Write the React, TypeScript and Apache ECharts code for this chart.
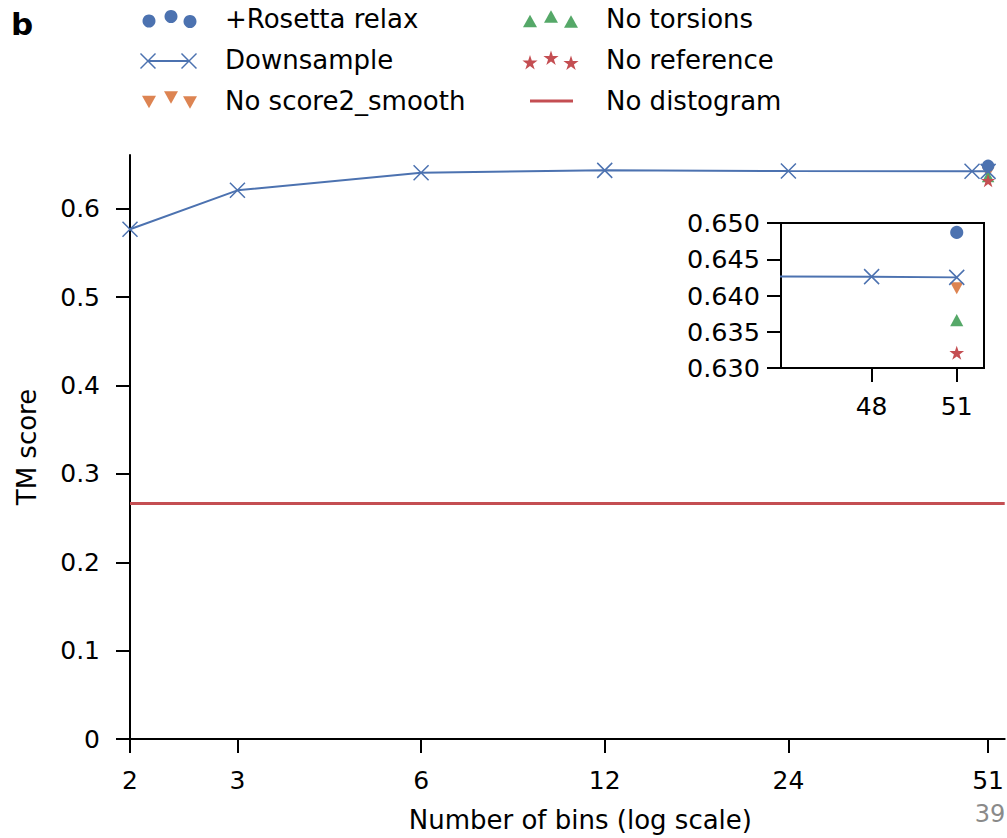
import React, { useEffect, useRef } from "react";
import * as echarts from "echarts";

// ---- data ----
const downsampleBins = [2, 3, 6, 12, 24, 48, 51];
const downsampleTM = [0.577, 0.621, 0.641, 0.6436, 0.6428, 0.6426, 0.6425];
const fullBins = [51];
const rosettaRelaxTM = [0.6487];
const noScore2SmoothTM = [0.641];
const noTorsionsTM = [0.6366];
const noReferenceTM = [0.6321];
const noDistogramTM = [0.267];

const mainXTicks = [2, 3, 6, 12, 24, 51];
const mainYTicks = [0, 0.1, 0.2, 0.3, 0.4, 0.5, 0.6];
const insetXTicks = [48, 51];
const insetYTicks = [0.63, 0.635, 0.64, 0.645, 0.65];

const BLUE = "#4c72b0";
const ORANGE = "#dd8452";
const GREEN = "#55a868";
const RED = "#c44e52";
const FONT = '"DejaVu Sans", "Liberation Sans", sans-serif';

const log2 = (v: number) => Math.log2(v);

function starPath(): string {
  const pts: string[] = [];
  for (let i = 0; i < 10; i++) {
    const r = i % 2 === 0 ? 1 : 0.381966;
    const a = -Math.PI / 2 + (i * Math.PI) / 5;
    pts.push(`${(r * Math.cos(a)).toFixed(4)},${(r * Math.sin(a)).toFixed(4)}`);
  }
  return "path://M" + pts.join("L") + "Z";
}
const STAR = starPath();
const XMARK = "path://M0,0L10,10M10,0L0,10";

function starPoints(cx: number, cy: number, R: number): number[][] {
  const pts: number[][] = [];
  for (let i = 0; i < 10; i++) {
    const r = i % 2 === 0 ? R : R * 0.381966;
    const a = -Math.PI / 2 + (i * Math.PI) / 5;
    pts.push([cx + r * Math.cos(a), cy + r * Math.sin(a)]);
  }
  return pts;
}
function triPoints(cx: number, cy: number, s: number, down: boolean): number[][] {
  const h = s * 0.9;
  if (down) return [[cx - s / 2, cy - h / 2], [cx + s / 2, cy - h / 2], [cx, cy + h / 2]];
  return [[cx - s / 2, cy + h / 2], [cx + s / 2, cy + h / 2], [cx, cy - h / 2]];
}

function buildLegend(): any[] {
  const els: any[] = [];
  const col1 = [149, 171, 190];
  const col2 = [530, 551, 571];
  const offs = [1, -3.5, 1.5];
  const text = (t: string, x: number, y: number) => ({
    type: "text",
    x,
    y,
    style: { text: t, fontSize: 26, fontFamily: FONT, fill: "#000", align: "left", verticalAlign: "middle", textAlign: "left", textVerticalAlign: "middle" },
  });
  // Row 1 col 1: circles
  col1.forEach((x, i) => els.push({ type: "circle", shape: { cx: x, cy: 20 + offs[i], r: 6.5 }, style: { fill: BLUE } }));
  els.push(text("+Rosetta relax", 225, 19));
  // Row 2 col 1: line with X
  els.push({ type: "line", shape: { x1: 148, y1: 61, x2: 189, y2: 61 }, style: { stroke: BLUE, lineWidth: 2 } });
  [148, 189].forEach((x) => {
    els.push({ type: "line", shape: { x1: x - 7.5, y1: 53.5, x2: x + 7.5, y2: 68.5 }, style: { stroke: BLUE, lineWidth: 1.5 } });
    els.push({ type: "line", shape: { x1: x - 7.5, y1: 68.5, x2: x + 7.5, y2: 53.5 }, style: { stroke: BLUE, lineWidth: 1.5 } });
  });
  els.push(text("Downsample", 225, 60));
  // Row 3 col 1: down triangles
  col1.forEach((x, i) => els.push({ type: "polygon", shape: { points: triPoints(x, 101 + offs[i], 14, true) }, style: { fill: ORANGE } }));
  els.push(text("No score2_smooth", 225, 101));
  // Row 1 col 2: up triangles
  col2.forEach((x, i) => els.push({ type: "polygon", shape: { points: triPoints(x, 20 + offs[i], 14, false) }, style: { fill: GREEN } }));
  els.push(text("No torsions", 606, 19));
  // Row 2 col 2: stars
  col2.forEach((x, i) => els.push({ type: "polygon", shape: { points: starPoints(x, 62 + offs[i], 8) }, style: { fill: RED } }));
  els.push(text("No reference", 606, 60));
  // Row 3 col 2: line
  els.push({ type: "line", shape: { x1: 530, y1: 101, x2: 573, y2: 101 }, style: { stroke: RED, lineWidth: 3 } });
  els.push(text("No distogram", 606, 101));
  // panel letter
  els.push({ type: "text", x: 11, y: 8, style: { text: "b", fontSize: 31, fontWeight: "bold", fontFamily: FONT, fill: "#000", align: "left", verticalAlign: "top", textAlign: "left", textVerticalAlign: "top" } });
  // page number
  els.push({ type: "text", x: 990, y: 814, style: { text: "39", fontSize: 24, fontFamily: FONT, fill: "#8a8a8a", align: "center", verticalAlign: "middle", textAlign: "center", textVerticalAlign: "middle" } });
  return els;
}

export default function App() {
  const ref = useRef<HTMLDivElement>(null);
  useEffect(() => {
    if (!ref.current) return;
    const chart = echarts.init(ref.current, undefined, { renderer: "svg" });
    const dsData = downsampleBins.map((b, i) => [log2(b), downsampleTM[i]]);
    const pt = (vals: number[]) => vals.map((v, i) => [log2(fullBins[i]), v]);

    const axisLine = { show: true, lineStyle: { color: "#000", width: 2 } };
    const axisTick = (vals: number[]) => ({ show: true, inside: false, length: 14, lineStyle: { color: "#000", width: 2 }, customValues: vals });

    const markerSeries = (gridIdx: number, scale: number) => [
      {
        name: "No distogram",
        type: "line",
        xAxisIndex: gridIdx,
        yAxisIndex: gridIdx,
        data: gridIdx === 0 ? pt(noDistogramTM) : [],
        showSymbol: false,
        symbol: "none",
        lineStyle: { color: RED, width: 3 },
        markLine:
          gridIdx === 0
            ? {
                silent: true,
                precision: 4,
                symbol: ["none", "none"],
                label: { show: false },
                lineStyle: { color: RED, width: 3, type: "solid" },
                data: noDistogramTM.map((v) => ({ yAxis: v })),
              }
            : undefined,
        z: 1,
      },
      {
        name: "No score2_smooth",
        type: "scatter",
        xAxisIndex: gridIdx,
        yAxisIndex: gridIdx,
        data: pt(noScore2SmoothTM),
        symbol: "triangle",
        symbolRotate: 180,
        symbolSize: [12.5 * scale, 11.5 * scale],
        itemStyle: { color: ORANGE, opacity: 1 },
        z: 3,
      },
      {
        name: "No torsions",
        type: "scatter",
        xAxisIndex: gridIdx,
        yAxisIndex: gridIdx,
        data: pt(noTorsionsTM),
        symbol: "triangle",
        symbolSize: [12.5 * scale, 11.5 * scale],
        itemStyle: { color: GREEN, opacity: 1 },
        z: 3,
      },
      {
        name: "Downsample",
        type: "line",
        xAxisIndex: gridIdx,
        yAxisIndex: gridIdx,
        data: dsData,
        clip: true,
        symbol: XMARK,
        symbolSize: 15,
        showSymbol: true,
        showAllSymbol: true,
        lineStyle: { color: BLUE, width: 2 },
        itemStyle: { color: BLUE, borderColor: BLUE, borderWidth: 1.5 },
        z: 4,
      },
      {
        name: "+Rosetta relax",
        type: "scatter",
        xAxisIndex: gridIdx,
        yAxisIndex: gridIdx,
        data: pt(rosettaRelaxTM),
        symbol: "circle",
        symbolSize: 12.5 * scale,
        itemStyle: { color: BLUE, opacity: 1 },
        z: 5,
      },
      {
        name: "No reference",
        type: "scatter",
        xAxisIndex: gridIdx,
        yAxisIndex: gridIdx,
        data: pt(noReferenceTM),
        symbol: STAR,
        symbolKeepAspect: true,
        symbolSize: 14 * scale,
        itemStyle: { color: RED, opacity: 1 },
        z: 6,
      },
    ];

    const option: any = {
      animation: false,
      backgroundColor: "#fff",
      textStyle: { fontFamily: FONT },
      grid: [
        { left: 130, top: 155, width: 877, height: 586, containLabel: false },
        { left: 781, top: 223, width: 203, height: 145, show: true, backgroundColor: "#fff", borderColor: "#000", borderWidth: 2, z: 10 },
      ],
      xAxis: [
        {
          type: "value",
          gridIndex: 0,
          min: log2(2),
          max: log2(54.3),
          axisLine,
          axisTick: axisTick(mainXTicks.map(log2)),
          axisLabel: {
            customValues: mainXTicks.map(log2),
            formatter: (v: number) => String(Math.round(Math.pow(2, v))),
            color: "#000",
            fontSize: 25,
            fontFamily: FONT,
            margin: 29,
          },
          splitLine: { show: false },
          name: "Number of bins (log scale)",
          nameLocation: "middle",
          nameGap: 68,
          nameTextStyle: { color: "#000", fontSize: 26, fontFamily: FONT, padding: [0, 0, 0, 26] },
        },
        {
          type: "value",
          gridIndex: 1,
          min: log2(45),
          max: log2(52),
          axisLine,
          axisTick: axisTick(insetXTicks.map(log2)),
          axisLabel: {
            customValues: insetXTicks.map(log2),
            formatter: (v: number) => String(Math.round(Math.pow(2, v))),
            color: "#000",
            fontSize: 25,
            fontFamily: FONT,
            margin: 26,
          },
          splitLine: { show: false },
          z: 10,
        },
      ],
      yAxis: [
        {
          type: "value",
          gridIndex: 0,
          min: 0,
          max: 0.661,
          axisLine,
          axisTick: axisTick(mainYTicks),
          axisLabel: {
            customValues: mainYTicks,
            formatter: (v: number) => (v === 0 ? "0" : v.toFixed(1)),
            color: "#000",
            fontSize: 25,
            fontFamily: FONT,
            margin: 30,
          },
          splitLine: { show: false },
          name: "TM score",
          nameLocation: "middle",
          nameGap: 90,
          nameTextStyle: { color: "#000", fontSize: 26, fontFamily: FONT },
        },
        {
          type: "value",
          gridIndex: 1,
          min: 0.63,
          max: 0.65,
          interval: 0.005,
          axisLine,
          axisTick: axisTick(insetYTicks),
          axisLabel: {
            customValues: insetYTicks,
            formatter: (v: number) => v.toFixed(3),
            color: "#000",
            fontSize: 25.5,
            fontFamily: FONT,
            margin: 21,
          },
          splitLine: { show: false },
          z: 10,
        },
      ],
      graphic: buildLegend(),
      series: [...markerSeries(0, 1), ...markerSeries(1, 1.05).map((s: any) => ({ ...s, z: (s.z || 0) + 10 }))],
    };
    chart.setOption(option);
    return () => chart.dispose();
  }, []);
  return <div ref={ref} style={{ position: "fixed", left: 0, top: 0, width: 1007, height: 838 }} />;
}
